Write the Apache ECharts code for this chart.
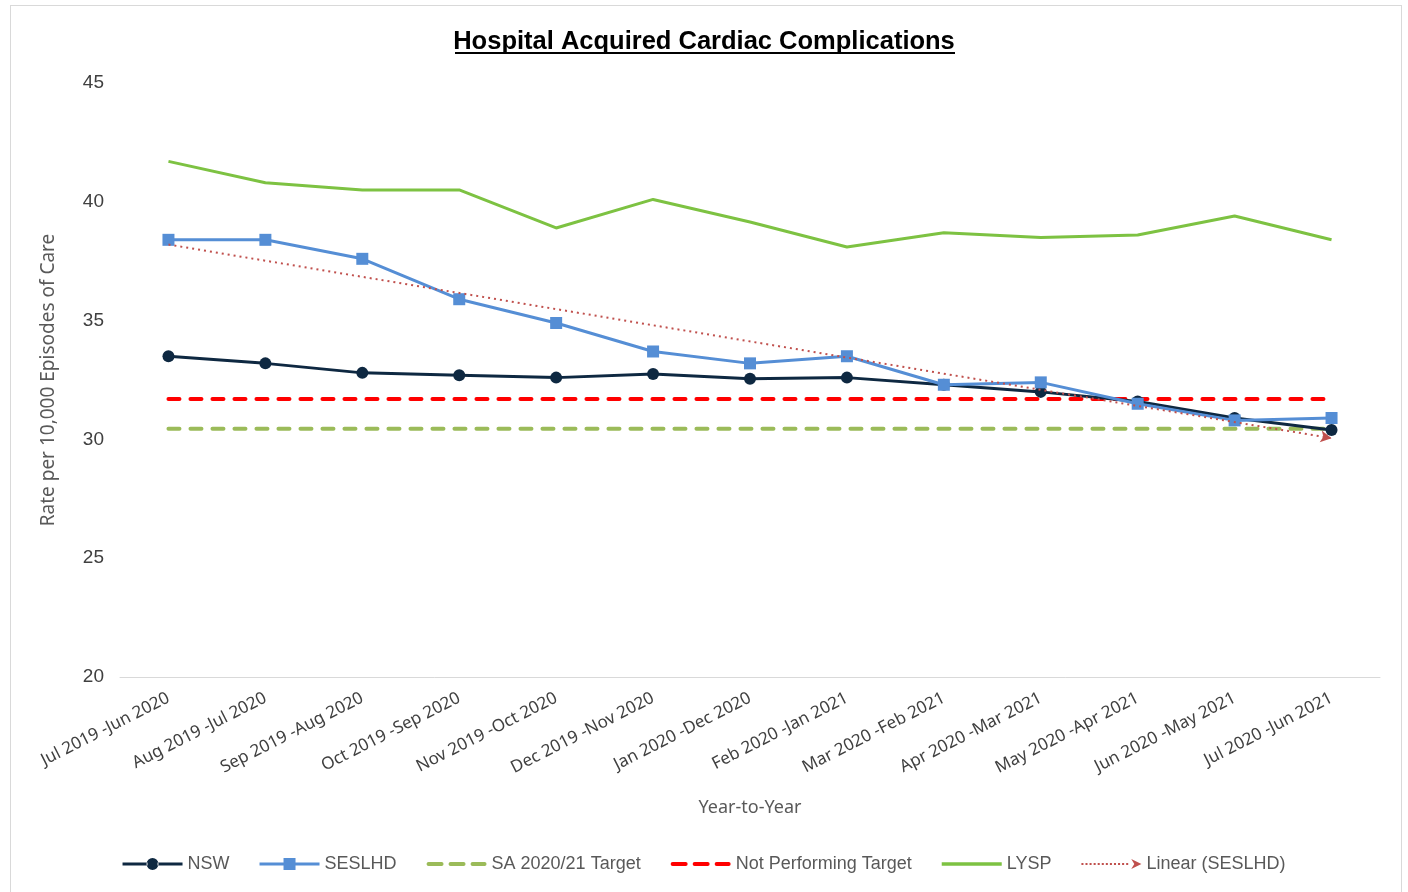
<!DOCTYPE html>
<html><head><meta charset="utf-8">
<script src="https://cdn.jsdelivr.net/npm/echarts@6/dist/echarts.min.js"></script>
<style>
html,body{margin:0;padding:0;background:#fff;}
#frame{position:absolute;left:10px;top:5px;width:1392px;height:895px;border:1px solid #d9d9d9;box-sizing:border-box;}
#chart{position:absolute;left:0;top:0;width:1408px;height:892px;}
</style></head>
<body><div id="frame"></div><div id="chart"></div>
<script>
const categories = ["Jul 2019 -Jun 2020","Aug 2019 -Jul 2020","Sep 2019 -Aug 2020","Oct 2019 -Sep 2020","Nov 2019 -Oct 2020","Dec 2019 -Nov 2020","Jan 2020 -Dec 2020","Feb 2020 -Jan 2021","Mar 2020 -Feb 2021","Apr 2020 -Mar 2021","May 2020 -Apr 2021","Jun 2020 -May 2021","Jul 2020 -Jun 2021"];
const nsw    = [33.5, 33.2, 32.8, 32.7, 32.6, 32.75, 32.55, 32.6, 32.3, 32.0, 31.6, 30.9, 30.4];
const seslhd = [38.4, 38.4, 37.6, 35.9, 34.9, 33.7, 33.2, 33.5, 32.3, 32.4, 31.5, 30.8, 30.9];
const lysp   = [41.7, 40.8, 40.5, 40.5, 38.9, 40.1, 39.15, 38.1, 38.7, 38.5, 38.6, 39.4, 38.4];
const saTarget = 30.45;
const notPerforming = 31.7;
const trendEnds = [38.2, 30.05];
const yTicks = {min: 20, max: 45, interval: 5};

const chart = echarts.init(document.getElementById('chart'));
const flat = v => categories.map(() => v);
const trendData = categories.map((c, i) => i === 0 ? trendEnds[0] : (i === categories.length - 1 ? {value: trendEnds[1], symbol: 'arrow', symbolSize: [9, 11], symbolRotate: -100, itemStyle: {color: '#C0504D'}} : null));

const icons = {
  circleLine: 'path://M0,6h25v3h-25z M35,6h25v3h-25z M24,7.5a6,6 0 1,0 12,0a6,6 0 1,0 -12,0z',
  squareLine: 'path://M0,6h25v3h-25z M35,6h25v3h-25z M24,1.5h12v12h-12z',
  dashed: 'path://M2,5h13a2,2 0 0,1 0,4h-13a2,2 0 0,1 0,-4z M24,5h13a2,2 0 0,1 0,4h-13a2,2 0 0,1 0,-4z M46,5h12a2,2 0 0,1 0,4h-12a2,2 0 0,1 0,-4z',
  solid: 'path://M0,5.5h60v3.5h-60z',
  dottedArrow: 'path://M0,6.5h2v2h-2z M4,6.5h2v2h-2z M8,6.5h2v2h-2z M12,6.5h2v2h-2z M16,6.5h2v2h-2z M20,6.5h2v2h-2z M24,6.5h2v2h-2z M28,6.5h2v2h-2z M32,6.5h2v2h-2z M36,6.5h2v2h-2z M40,6.5h2v2h-2z M44,6.5h2v2h-2z M49,2.5l10,5l-10,5l3,-5z'
};

chart.setOption({
  animation: false,
  title: {
    text: 'Hospital Acquired Cardiac Complications',
    left: 'center', top: 24,
    textStyle: {fontFamily: 'Liberation Sans, Arial', fontWeight: 'bold', fontSize: 25.5, color: '#000'}
  },
  graphic: [{type: 'rect', shape: {x: 455, y: 52, width: 500, height: 2}, style: {fill: '#000'}}],
  grid: {left: 120, right: 28, top: 83, bottom: 215},
  legend: {
    bottom: 14, left: 'center', itemWidth: 60, itemHeight: 14, itemGap: 30,
    textStyle: {fontFamily: 'Liberation Sans', fontSize: 18, color: '#595959'},
    data: [
      {name: 'NSW', icon: icons.circleLine},
      {name: 'SESLHD', icon: icons.squareLine},
      {name: 'SA 2020/21 Target', icon: icons.dashed},
      {name: 'Not Performing Target', icon: icons.dashed},
      {name: 'LYSP', icon: icons.solid},
      {name: 'Linear (SESLHD)', icon: icons.dottedArrow}
    ]
  },
  xAxis: {
    type: 'category', data: categories, boundaryGap: true,
    name: 'Year-to-Year', nameLocation: 'middle', nameGap: 122,
    nameTextStyle: {fontFamily: 'Noto Sans', fontSize: 18, color: '#595959'},
    axisLine: {lineStyle: {color: '#d9d9d9', width: 1}},
    axisTick: {show: false},
    axisLabel: {rotate: 27, interval: 0, fontFamily: 'Noto Sans', fontSize: 17, color: '#404040', margin: 20}
  },
  yAxis: {
    type: 'value', min: yTicks.min, max: yTicks.max, interval: yTicks.interval,
    name: 'Rate per 10,000 Episodes of Care', nameLocation: 'middle', nameGap: 62,
    nameTextStyle: {fontFamily: 'Noto Sans', fontSize: 19, color: '#595959'},
    axisLine: {show: false}, axisTick: {show: false}, splitLine: {show: false},
    axisLabel: {fontFamily: 'Liberation Sans', fontSize: 19, color: '#404040', margin: 16}
  },
  series: [
    {name: 'SA 2020/21 Target', type: 'line', data: flat(saTarget), symbol: 'none', z: 1,
      lineStyle: {color: '#9BBB59', width: 4, type: [11, 11], cap: 'round'}, itemStyle: {color: '#9BBB59'}},
    {name: 'Not Performing Target', type: 'line', data: flat(notPerforming), symbol: 'none', z: 1,
      lineStyle: {color: '#FF0000', width: 4, type: [11, 11], cap: 'round'}, itemStyle: {color: '#FF0000'}},
    {name: 'LYSP', type: 'line', data: lysp, symbol: 'none', z: 2,
      lineStyle: {color: '#7DC242', width: 3}, itemStyle: {color: '#7DC242'}},
    {name: 'NSW', type: 'line', data: nsw, symbol: 'circle', symbolSize: 12, z: 3,
      lineStyle: {color: '#0E2841', width: 3}, itemStyle: {color: '#0E2841'}},
    {name: 'SESLHD', type: 'line', data: seslhd, symbol: 'rect', symbolSize: 12, z: 4,
      lineStyle: {color: '#558ED5', width: 3}, itemStyle: {color: '#558ED5'}},
    {name: 'Linear (SESLHD)', type: 'line', data: trendData, connectNulls: true, symbol: 'none', z: 5,
      lineStyle: {color: '#C0504D', width: 2, type: [2, 4]}, itemStyle: {color: '#C0504D'}}
  ]
});
</script></body></html>
